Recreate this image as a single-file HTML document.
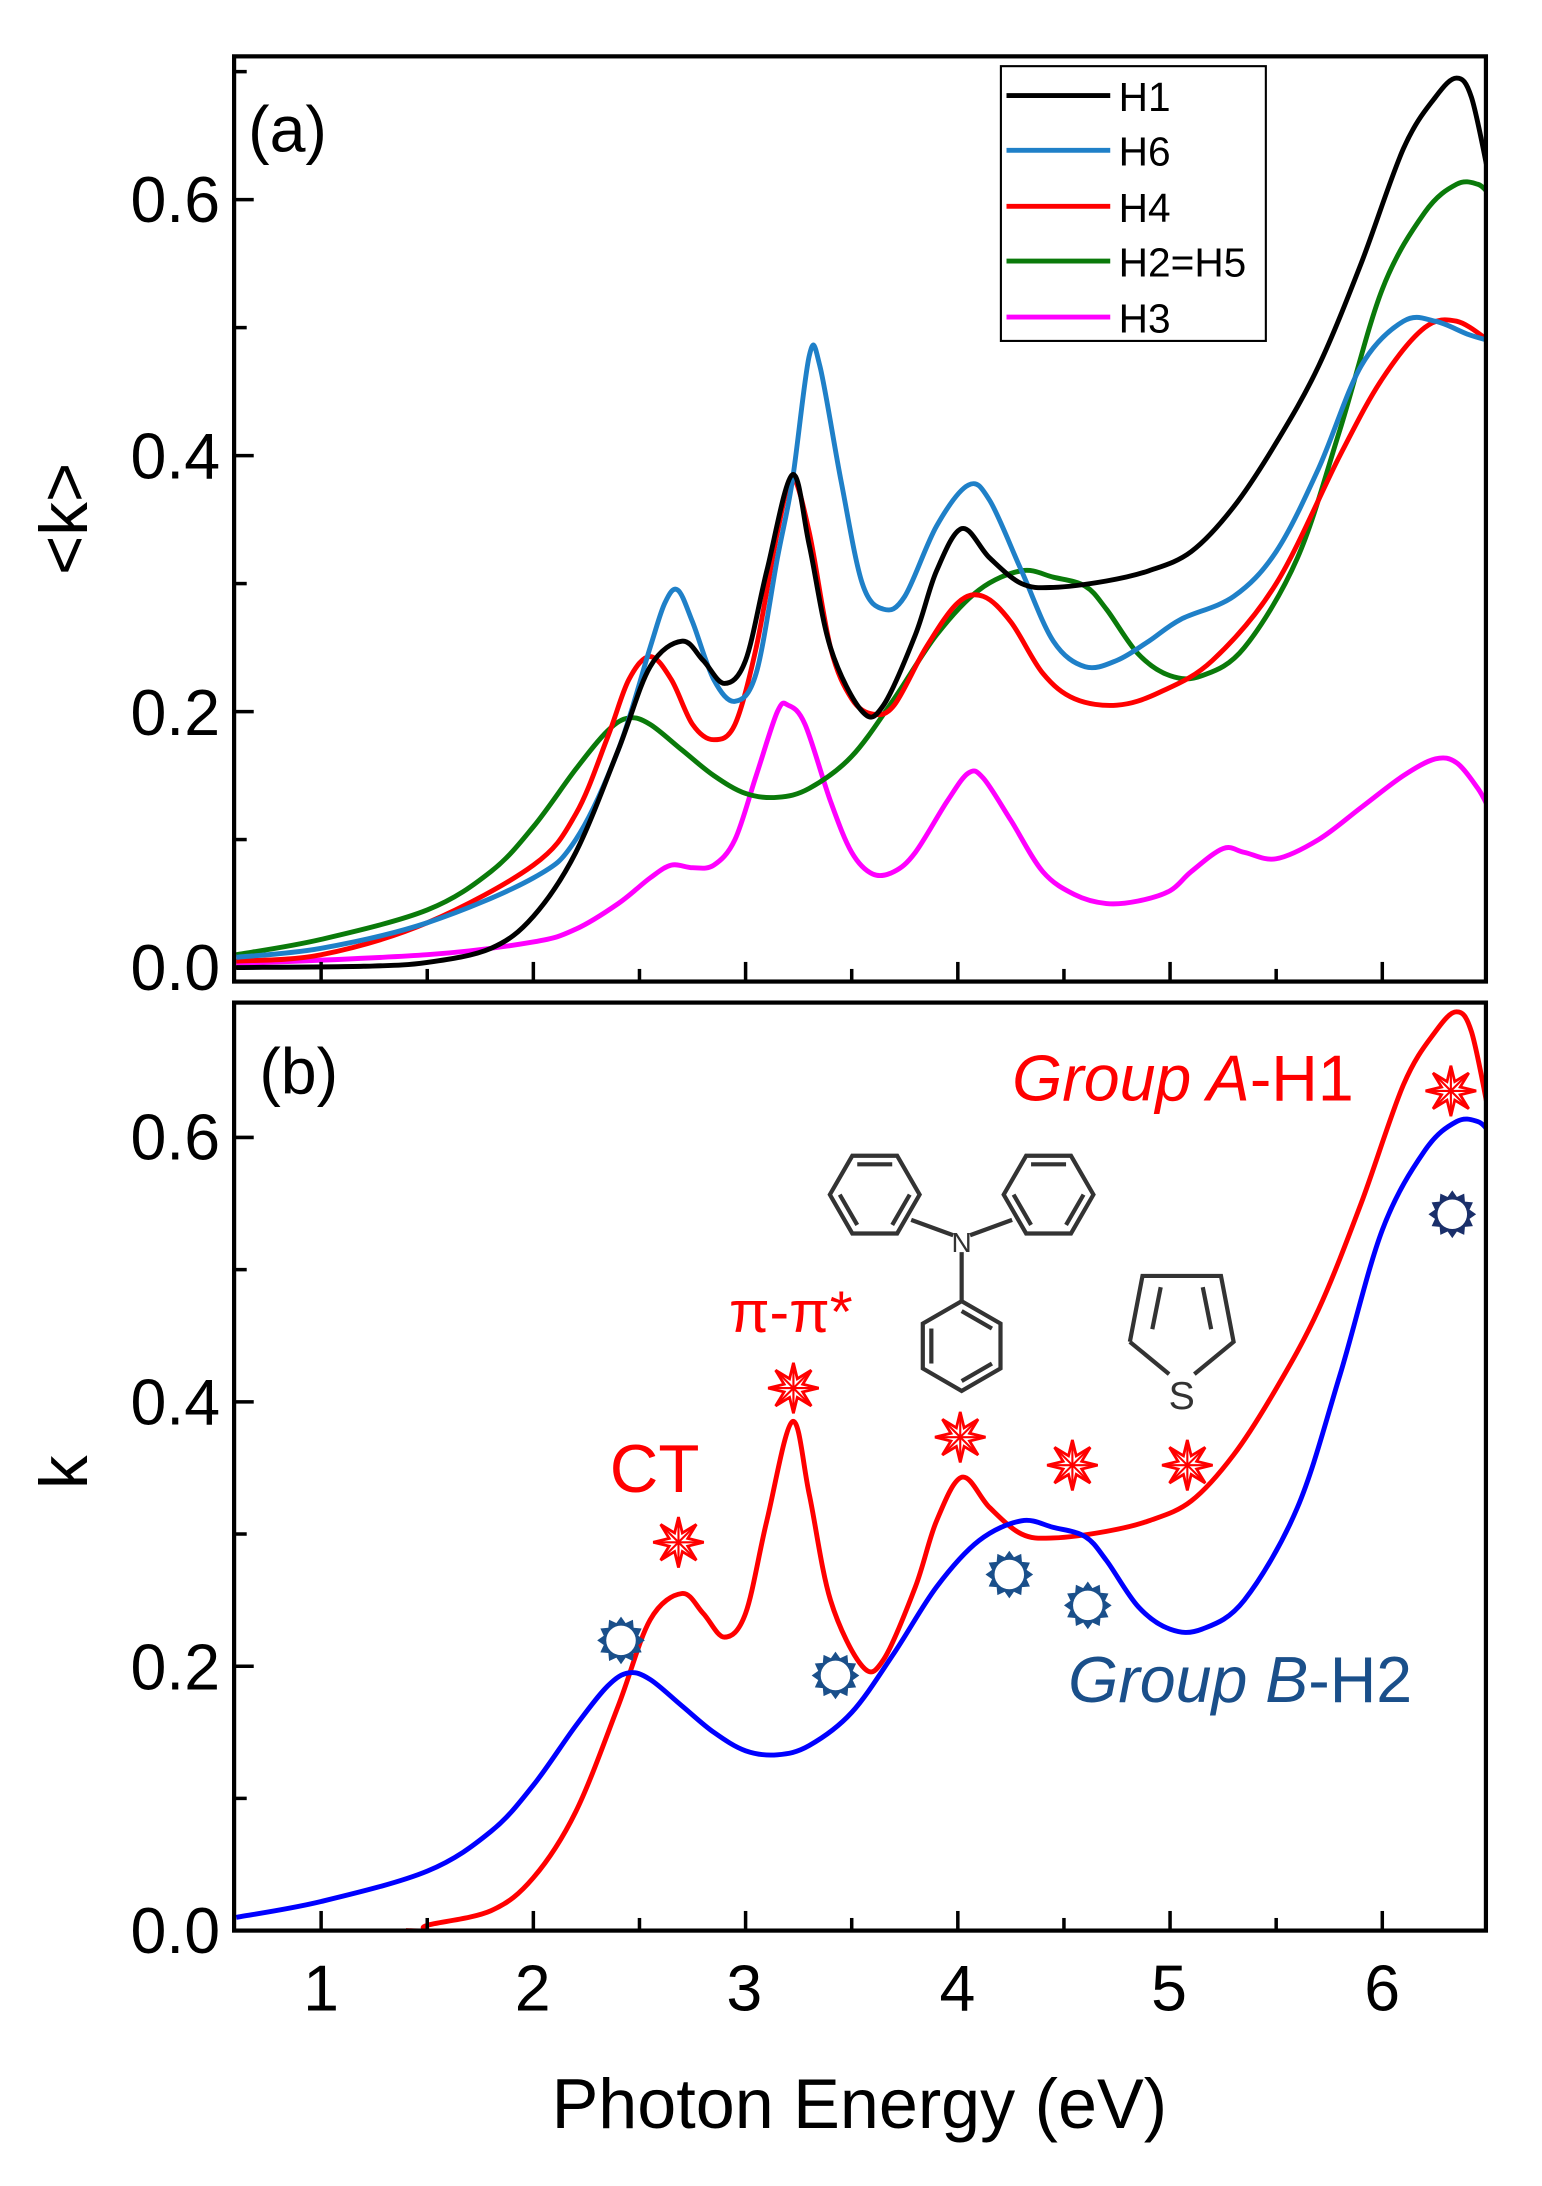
<!DOCTYPE html>
<html><head><meta charset="utf-8"><style>
html,body{margin:0;padding:0;background:#fff}
svg{display:block}
text{font-family:"Liberation Sans",sans-serif}
</style></head><body>
<svg id="s" width="1542" height="2186" viewBox="0 0 1100 1559" xmlns="http://www.w3.org/2000/svg">
<rect width="1100" height="1559" fill="#fff"/>
<g id="g"></g>
<rect x="167" y="40" width="893" height="660" fill="none" stroke="#000" stroke-width="3"/>
<rect x="167" y="715" width="893" height="662" fill="none" stroke="#000" stroke-width="3"/>
<g font-size="46" text-anchor="end">
<text x="157" y="158">0.6</text><text x="157" y="341">0.4</text><text x="157" y="524">0.2</text><text x="157" y="706">0.0</text>
<text x="157" y="827">0.6</text><text x="157" y="1016">0.4</text><text x="157" y="1205">0.2</text><text x="157" y="1393">0.0</text>
</g>
<g font-size="46" text-anchor="middle">
<text x="229" y="1434">1</text><text x="380" y="1434">2</text><text x="531" y="1434">3</text><text x="683" y="1434">4</text><text x="834" y="1434">5</text><text x="986" y="1434">6</text>
</g>
<text x="613" y="1518" font-size="50" text-anchor="middle">Photon Energy (eV)</text>
<text transform="translate(62,370) rotate(-90)" font-size="48" text-anchor="middle">&lt;k&gt;</text>
<text transform="translate(62,1050) rotate(-90)" font-size="48" text-anchor="middle">k</text>
<text x="177" y="108" font-size="46">(a)</text>
<text x="185" y="780" font-size="46">(b)</text>
<rect x="714" y="47" width="189" height="196" fill="#fff" stroke="#000" stroke-width="1.5"/>
<g stroke-width="3.5">
<line x1="718" y1="68" x2="792" y2="68" stroke="#000"/>
<line x1="718" y1="107" x2="792" y2="107" stroke="#1f80c8"/>
<line x1="718" y1="147" x2="792" y2="147" stroke="#f00"/>
<line x1="718" y1="186" x2="792" y2="186" stroke="#0a7a0a"/>
<line x1="718" y1="226" x2="792" y2="226" stroke="#f0f"/>
</g>
<g font-size="29">
<text x="798" y="79">H1</text><text x="798" y="118">H6</text><text x="798" y="158">H4</text><text x="798" y="197">H2=H5</text><text x="798" y="237">H3</text>
</g>
<text x="722" y="785" font-size="46" fill="#f00"><tspan font-style="italic">Group A</tspan>-H1</text>
<text x="762" y="1214" font-size="46" fill="#1a4f8a"><tspan font-style="italic">Group B</tspan>-H2</text>
<text x="435" y="1064" font-size="48" fill="#f00">CT</text>
<text x="520" y="950" font-size="42" fill="#f00" font-family="Liberation Serif">π-π*</text>
<g id="mol" fill="none" stroke="#333" stroke-width="3"></g>
<text x="686" y="893" font-size="20" text-anchor="middle" fill="#333">N</text>
<text x="843" y="1005" font-size="28" text-anchor="middle" fill="#333">S</text>
<g id="icons"></g>
</svg>
<script>
var NS="http://www.w3.org/2000/svg";
function X(e){return 167+(e-0.59)*151.4;}
function Ya(k){return 690-k*913;}
function Yb(k){return 1377-k*943;}
function path(pts,Y,col,w,parent){
 var p=pts.map(function(a){return [X(a[0]),Y(a[1])];});
 var d="M"+p[0][0]+","+p[0][1];
 for(var i=0;i<p.length-1;i++){
  var p0=p[i-1]||p[i],p1=p[i],p2=p[i+1],p3=p[i+2]||p2;
  var c1=[p1[0]+(p2[0]-p0[0])/6,p1[1]+(p2[1]-p0[1])/6];
  var c2=[p2[0]-(p3[0]-p1[0])/6,p2[1]-(p3[1]-p1[1])/6];
  d+="C"+c1+" "+c2+" "+p2;
 }
 var e=document.createElementNS(NS,"path");
 e.setAttribute("d",d);e.setAttribute("fill","none");e.setAttribute("stroke",col);e.setAttribute("stroke-width",w);
 e.setAttribute("stroke-linejoin","round");
 (parent||document.getElementById("g")).appendChild(e);
}
var g=document.getElementById("g");
function clip(id,y,h){var c=document.createElementNS(NS,"clipPath");c.id=id;var r=document.createElementNS(NS,"rect");r.setAttribute("x",167);r.setAttribute("y",y);r.setAttribute("width",893);r.setAttribute("height",h);c.appendChild(r);g.appendChild(c);var gg=document.createElementNS(NS,"g");gg.setAttribute("clip-path","url(#"+id+")");g.appendChild(gg);return gg;}
var ga=clip("ca",40,660),gb=clip("cb",715,662);
var H1=[[0.6,0.0],[1.2,0.001],[1.5,0.004],[1.8,0.015],[2.0,0.04],[2.2,0.09],[2.4,0.17],[2.55,0.235],[2.7,0.255],[2.8,0.24],[2.9,0.222],[3.0,0.24],[3.1,0.31],[3.22,0.385],[3.3,0.33],[3.4,0.25],[3.55,0.2],[3.65,0.205],[3.8,0.26],[3.9,0.31],[4.02,0.343],[4.15,0.32],[4.3,0.3],[4.45,0.297],[4.7,0.302],[4.9,0.31],[5.1,0.325],[5.3,0.36],[5.5,0.41],[5.7,0.47],[5.9,0.55],[6.1,0.64],[6.25,0.68],[6.35,0.695],[6.42,0.68],[6.5,0.62]];
var H6=[[0.6,0.008],[1.0,0.015],[1.5,0.035],[2.0,0.07],[2.2,0.1],[2.4,0.17],[2.55,0.25],[2.62,0.285],[2.68,0.295],[2.75,0.27],[2.85,0.225],[2.95,0.208],[3.05,0.23],[3.15,0.32],[3.22,0.38],[3.3,0.478],[3.35,0.47],[3.45,0.38],[3.55,0.3],[3.65,0.28],[3.75,0.29],[3.9,0.345],[4.05,0.377],[4.15,0.365],[4.3,0.31],[4.45,0.255],[4.6,0.235],[4.75,0.24],[4.9,0.255],[5.05,0.272],[5.3,0.29],[5.5,0.325],[5.7,0.39],[5.9,0.47],[6.1,0.505],[6.25,0.505],[6.4,0.495],[6.5,0.49]];
var H4=[[0.6,0.005],[1.0,0.01],[1.5,0.035],[2.0,0.08],[2.2,0.12],[2.35,0.18],[2.45,0.225],[2.55,0.243],[2.65,0.225],[2.75,0.19],[2.85,0.178],[2.95,0.19],[3.05,0.25],[3.15,0.34],[3.22,0.382],[3.3,0.34],[3.4,0.25],[3.5,0.21],[3.6,0.198],[3.7,0.205],[3.85,0.25],[4.0,0.285],[4.12,0.29],[4.25,0.27],[4.4,0.23],[4.55,0.21],[4.75,0.205],[4.95,0.215],[5.2,0.24],[5.5,0.3],[5.8,0.4],[6.0,0.46],[6.2,0.5],[6.35,0.505],[6.5,0.49]];
var H2=[[0.6,0.01],[1.0,0.022],[1.5,0.045],[1.8,0.075],[2.0,0.11],[2.2,0.155],[2.35,0.185],[2.45,0.195],[2.55,0.19],[2.7,0.17],[2.85,0.15],[3.0,0.136],[3.15,0.133],[3.3,0.14],[3.5,0.165],[3.7,0.21],[3.9,0.26],[4.1,0.295],[4.3,0.31],[4.45,0.305],[4.6,0.298],[4.7,0.28],[4.85,0.245],[5.0,0.228],[5.15,0.228],[5.35,0.25],[5.6,0.32],[5.8,0.42],[6.0,0.53],[6.2,0.59],[6.35,0.612],[6.45,0.612],[6.5,0.605]];
var H3=[[0.6,0.003],[1.5,0.01],[2.0,0.02],[2.2,0.03],[2.4,0.05],[2.55,0.07],[2.65,0.08],[2.75,0.078],[2.85,0.08],[2.95,0.1],[3.05,0.15],[3.15,0.2],[3.2,0.205],[3.28,0.19],[3.4,0.13],[3.5,0.09],[3.6,0.073],[3.7,0.075],[3.8,0.09],[3.95,0.13],[4.05,0.152],[4.12,0.148],[4.25,0.115],[4.4,0.075],[4.55,0.057],[4.7,0.05],[4.85,0.052],[5.0,0.06],[5.1,0.075],[5.25,0.093],[5.35,0.09],[5.5,0.085],[5.7,0.1],[5.9,0.125],[6.1,0.15],[6.25,0.163],[6.35,0.16],[6.45,0.14],[6.5,0.125]];
path(H3,Ya,"#f0f",3.5,ga);path(H2,Ya,"#0a7a0a",3.5,ga);path(H4,Ya,"#f00",3.5,ga);path(H6,Ya,"#1f80c8",3.5,ga);path(H1,Ya,"#000",3.5,ga);
var R=H1.slice();R[0]=[1.4,0];R[1]=[1.5,0.0];
path(R.filter(function(a){return a[0]>=1.4}),Yb,"#f00",3.5,gb);path(H2,Yb,"#00f",3.5,gb);
function line(x1,y1,x2,y2,parent,col,w){var l=document.createElementNS(NS,"line");l.setAttribute("x1",x1);l.setAttribute("y1",y1);l.setAttribute("x2",x2);l.setAttribute("y2",y2);l.setAttribute("stroke",col||"#000");l.setAttribute("stroke-width",w||2.5);(parent||g).appendChild(l);}
for(var e=1;e<=6.01;e+=0.5){var big=Math.abs(e-Math.round(e))<0.01;var L=big?14:9;line(X(e),700,X(e),700-L);line(X(e),1377,X(e),1377-L);}
for(var k=0;k<=0.71;k+=0.1){var big=Math.round(k*10)%2==0;var L=big?14:9;if(Ya(k)>42)line(167,Ya(k),167+L,Ya(k));if(Yb(k)>717)line(167,Yb(k),167+L,Yb(k));}
var mol=document.getElementById("mol");
function poly(pts,closed){var e=document.createElementNS(NS,closed?"polygon":"polyline");e.setAttribute("points",pts.map(function(p){return p.join(",")}).join(" "));mol.appendChild(e);}
function hex(cx,cy,r,rot){var p=[];for(var i=0;i<6;i++){var a=(rot+i*60)*Math.PI/180;p.push([cx+r*Math.cos(a),cy+r*Math.sin(a)]);}poly(p,true);
 for(var i=0;i<6;i+=2){var a1=(rot+i*60)*Math.PI/180,a2=(rot+(i+1)*60)*Math.PI/180,r2=r*0.78;poly([[cx+r2*Math.cos(a1),cy+r2*Math.sin(a1)],[cx+r2*Math.cos(a2),cy+r2*Math.sin(a2)]]);}}
hex(624,852,32,0);hex(748,852,32,0);hex(686,960,32,30);
poly([[650,870],[680,881]]);poly([[722,870],[692,881]]);poly([[686,893],[686,928]]);
poly([[806,957],[815,910],[871,910],[880,957],[852,980]]);poly([[806,957],[834,980]]);
poly([[822,948],[828,918]]);poly([[864,948],[858,918]]);
var ic=document.getElementById("icons");
function star(cx,cy,r){var p=[];for(var i=0;i<16;i++){var a=i*Math.PI/8-Math.PI/2;var rr=i%2?r*0.4:r;p.push([cx+rr*Math.cos(a),cy+rr*Math.sin(a)]);}
 var e=document.createElementNS(NS,"polygon");e.setAttribute("points",p.map(function(q){return q.join(",")}).join(" "));e.setAttribute("fill","#fff");e.setAttribute("stroke","#f00");e.setAttribute("stroke-width",2);ic.appendChild(e);
 for(var i=0;i<8;i++){var a=i*Math.PI/4-Math.PI/2;line(cx,cy,cx+r*Math.cos(a),cy+r*Math.sin(a),ic,"#f00",1.5);}}
function sun(cx,cy,r,col){var p=[];for(var i=0;i<24;i++){var a=i*Math.PI/12;var rr=i%2?r*0.75:r;p.push([cx+rr*Math.cos(a),cy+rr*Math.sin(a)]);}
 var e=document.createElementNS(NS,"polygon");e.setAttribute("points",p.map(function(q){return q.join(",")}).join(" "));e.setAttribute("fill",col);ic.appendChild(e);
 var c=document.createElementNS(NS,"circle");c.setAttribute("cx",cx);c.setAttribute("cy",cy);c.setAttribute("r",r*0.62);c.setAttribute("fill","#fff");ic.appendChild(c);}
[[484,1100],[566,990],[685,1025],[765,1045],[847,1045],[1035,778]].forEach(function(a){star(a[0],a[1],18);});
[[443,1170],[596,1195],[720,1123],[776,1145],[1036,866]].forEach(function(a,i){sun(a[0],a[1],17,i==4?"#1a2f6a":"#1a4f8a");});
</script>
</body></html>
